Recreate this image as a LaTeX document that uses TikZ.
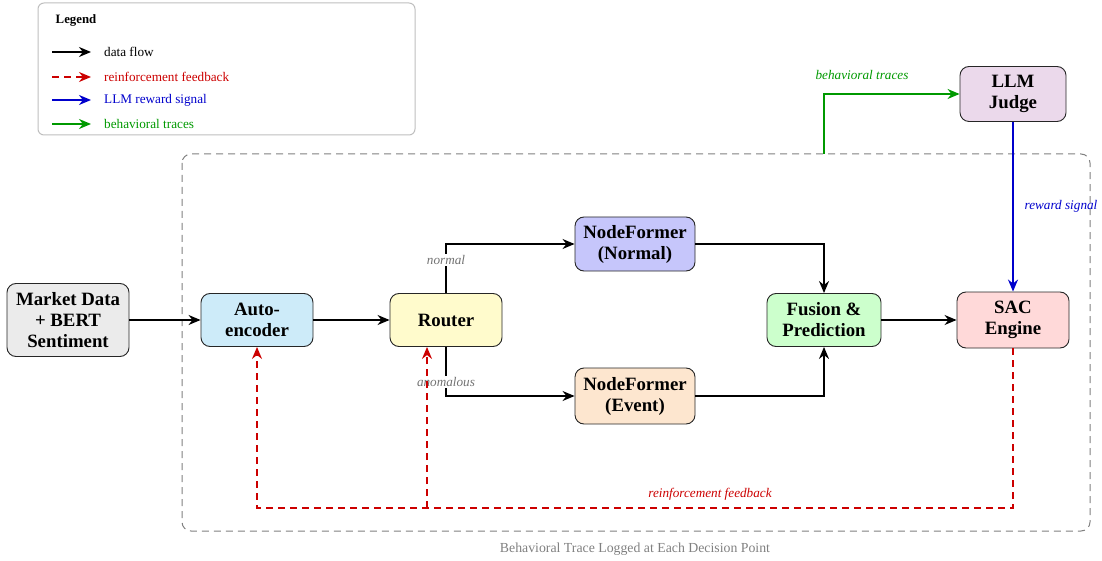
\documentclass[tikz,border=0pt]{standalone}
\usepackage{fontspec}
\setmainfont{Liberation Serif}
\usetikzlibrary{arrows.meta,calc}
\definecolor{cRed}{HTML}{CC0000}
\definecolor{cBlue}{HTML}{0000CC}
\definecolor{cGreen}{HTML}{009900}
\definecolor{fGray}{HTML}{EBEBEB}
\definecolor{fAuto}{HTML}{CDEBF9}
\definecolor{fRouter}{HTML}{FFFBCC}
\definecolor{fNormal}{HTML}{C6C6FB}
\definecolor{fEvent}{HTML}{FDE6CF}
\definecolor{fFusion}{HTML}{CCFFCC}
\definecolor{fSAC}{HTML}{FFD9D9}
\definecolor{fLLM}{HTML}{EBD9EB}
\tikzset{
  box/.style={draw=black!85, line width=0.9pt, rounded corners=9pt, align=center,
    font=\bfseries\fontsize{18.8}{21}\selectfont, inner sep=2pt},
  dataflow/.style={line width=1.5pt, -{Stealth[length=12pt,width=10pt]}},
  fbflow/.style={line width=1.5pt, cRed, dash pattern=on 7pt off 5pt, -{Stealth[length=12pt,width=10pt]}},
  rewflow/.style={line width=1.5pt, cBlue, -{Stealth[length=12pt,width=10pt]}},
  trflow/.style={line width=1.5pt, cGreen, -{Stealth[length=12pt,width=10pt]}},
  elabel/.style={font=\itshape\fontsize{13.2}{15}\selectfont, inner sep=1pt},
  legtext/.style={font=\fontsize{13.2}{15}\selectfont, anchor=west, inner sep=0pt},
}
\begin{document}
\begin{tikzpicture}[x=1pt,y=-1pt]
\useasboundingbox (0,0) rectangle (1102,561);
% legend
\draw[black!25, line width=1pt, rounded corners=6pt] (38,3) rectangle (415,135);
\node[font=\bfseries\fontsize{12.8}{14}\selectfont] (legtitle) at (76,20) {Legend};
\coordinate (l1a) at (52,52); \coordinate (l1b) at (91,52);
\coordinate (l2a) at (52,77); \coordinate (l2b) at (91,77);
\coordinate (l3a) at (52,100); \coordinate (l3b) at (91,100);
\coordinate (l4a) at (52,124); \coordinate (l4b) at (91,124);
\draw[dataflow] (l1a) -- (l1b);
\draw[fbflow] (l2a) -- (l2b);
\draw[rewflow] (l3a) -- (l3b);
\draw[trflow] (l4a) -- (l4b);
\node[legtext] (lt1) at (104,52) {data flow};
\node[legtext, text=cRed] (lt2) at (104,77) {reinforcement feedback};
\node[legtext, text=cBlue] (lt3) at (104,100) {LLM reward signal};
\node[legtext, text=cGreen] (lt4) at (104,124) {behavioral traces};

% frame
\draw[black!50, line width=1pt, dash pattern=on 7pt off 5pt, rounded corners=9pt] (182,154) rectangle (1090,531);
\node[font=\fontsize{13.8}{15}\selectfont, text=black!50] (caption) at (635,549) {Behavioral Trace Logged at Each Decision Point};

% nodes
\node[box, fill=fGray, minimum width=122pt, minimum height=73pt] (market) at (68,320) {Market Data\\+ BERT\\Sentiment};
\node[box, fill=fAuto, minimum width=112pt, minimum height=53pt] (auto) at (257,320) {Auto-\\encoder};
\node[box, fill=fRouter, minimum width=112pt, minimum height=53pt] (router) at (446,320) {Router};
\node[box, fill=fNormal, minimum width=120pt, minimum height=54pt] (nfn) at (635,244) {NodeFormer\\(Normal)};
\node[box, fill=fEvent, minimum width=120pt, minimum height=56pt] (nfe) at (635,396) {NodeFormer\\(Event)};
\node[box, fill=fFusion, minimum width=114pt, minimum height=53pt] (fusion) at (824,320) {Fusion \&\\Prediction};
\node[box, fill=fSAC, minimum width=112pt, minimum height=56pt] (sac) at (1013,320) {SAC\\Engine};
\node[box, fill=fLLM, minimum width=106pt, minimum height=55pt] (llm) at (1013,94) {LLM\\Judge};

% data flow
\draw[dataflow] (market) -- (auto);
\draw[dataflow] (auto) -- (router);
\draw[dataflow] (router.north) |- (nfn.west);
\draw[dataflow] (router.south) |- (nfe.west);
\node[elabel, fill=white, text=black!55] (lnormal) at (446,260) {normal};
\node[elabel, fill=white, text=black!55] (lanom) at (446,382) {anomalous};
\draw[dataflow] (nfn.east) -| (fusion.north);
\draw[dataflow] (nfe.east) -| (fusion.south);
\draw[dataflow] (fusion) -- (sac);

% reward
\draw[rewflow] (llm.south) -- (sac.north);
\node[elabel, text=cBlue] (lrew) at (1061,206) {reward signal};

% traces
\coordinate (trstart) at (824,154);
\draw[trflow] (trstart) |- (llm.west);
\node[elabel, text=cGreen] (ltr) at (862,75) {behavioral traces};

% feedback
\coordinate (fbcorner) at (1013,508);
\coordinate (fbleft) at (257,508);
\coordinate (fbmid) at (427,508);
\draw[fbflow] (sac.south) -- (fbcorner) -- (fbleft) -- (auto.south);
\draw[fbflow] (fbmid) -- (fbmid |- router.south);
\node[elabel, text=cRed] (lfb) at (710,494) {reinforcement feedback};
\end{tikzpicture}
\end{document}
